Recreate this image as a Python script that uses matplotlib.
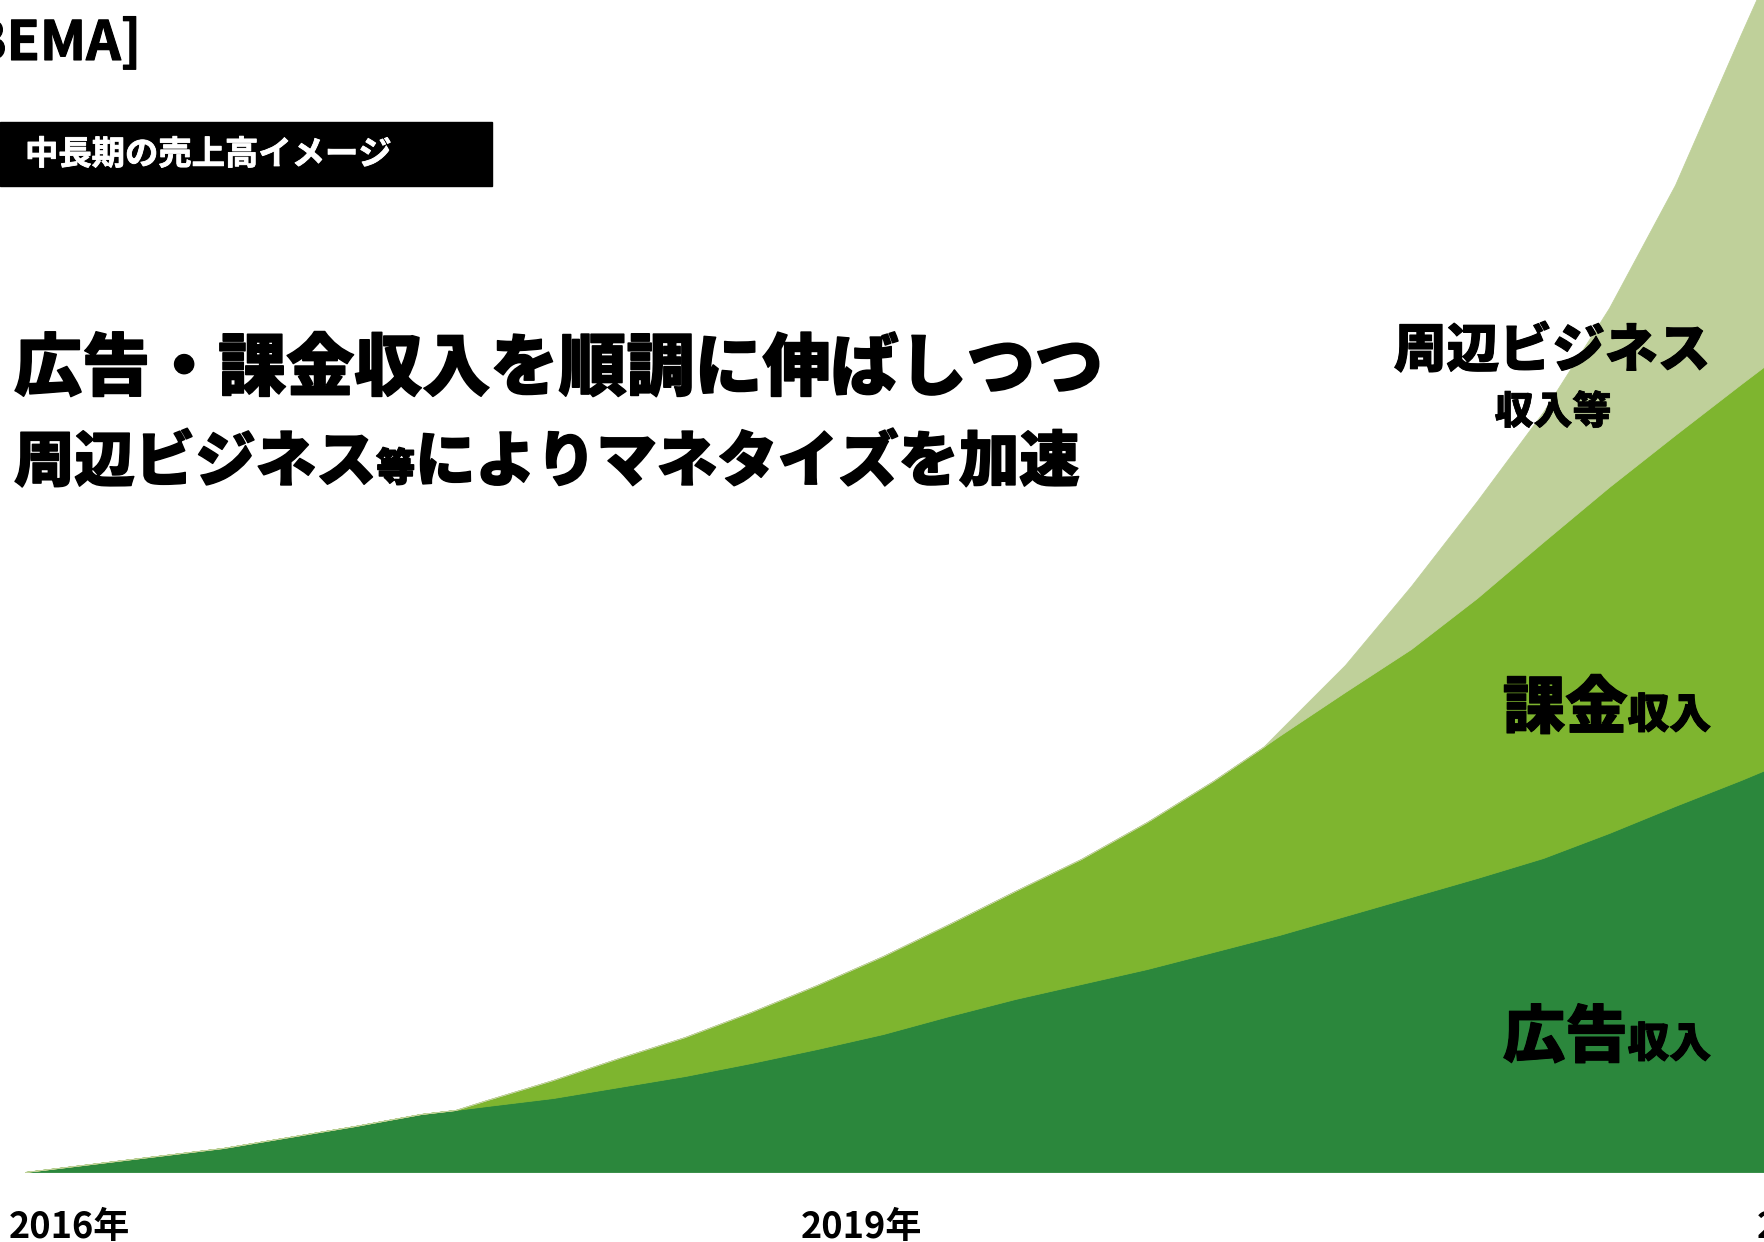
import matplotlib
matplotlib.use("Agg")
import matplotlib.pyplot as plt
from matplotlib.patches import Rectangle
import matplotlib.patheffects as pe

plt.rcParams['font.family'] = ['Noto Sans CJK JP', 'DejaVu Sans']

# 中長期の売上高イメージ (image values)
years = [2016.0, 2016.25, 2016.5, 2016.75, 2017.0, 2017.25, 2017.5, 2017.63,
         2017.75, 2018.0, 2018.25, 2018.5, 2018.75, 2019.0, 2019.25, 2019.5,
         2019.75, 2020.0, 2020.25, 2020.5, 2020.69, 2020.75, 2021.0, 2021.25,
         2021.5, 2021.75, 2022.0, 2022.25, 2022.5, 2022.6]
ad_revenue = [0, 0.8, 1.6, 2.4, 3.5, 4.6, 5.8, 6.2,
              6.6, 7.4, 8.5, 9.6, 10.9, 12.3, 13.8, 15.6,
              17.3, 18.8, 20.3, 22.0, 23.3, 23.7, 25.6, 27.5,
              29.4, 31.4, 33.9, 36.6, 39.2, 40.3]
subscription = [0, 0, 0, 0, 0, 0, 0, 0,
                0.6, 1.8, 2.9, 3.9, 5.1, 6.4, 7.8, 9.2,
                10.8, 12.5, 14.7, 17.1, 19.2, 19.9, 22.4, 24.8,
                28.0, 31.6, 34.6, 37.1, 39.6, 40.5]
other_business = [0, 0, 0, 0, 0, 0, 0, 0,
                  0, 0, 0, 0, 0, 0, 0, 0,
                  0, 0, 0, 0, 0, 0.5, 2.7, 6.3,
                  9.7, 13.0, 17.9, 25.0, 35.0, 38.9]

# year labels along the bottom (the third one is cut by the slide edge)
year_label_pos = [2016, 2019, 2022.62]
year_labels = ['2016年', '2019年', '2022年']

colors = ['#2b873c', '#7eb52f', '#bfd09a']

W, H = 1765, 1242
fig = plt.figure(figsize=(W / 100, H / 100), dpi=100)
ax = fig.add_axes([0, 0, 1, 1])
ax.set_xlim(2015.905, 2022.591)
ax.set_ylim(-7.0, 117.2)
ax.axis('off')

polys = ax.stackplot(years, ad_revenue, subscription, other_business, colors=colors)
for p, c in zip(polys, colors):
    p.set_edgecolor(c)
    p.set_linewidth(0.6)


def heavy(w):
    return [pe.withStroke(linewidth=w, foreground='black')]


for yr, lab in zip(year_label_pos, year_labels):
    ax.text(yr - 16 / 264, -6.6, lab, ha='left', va='baseline',
            fontsize=26, fontweight='bold', color='black')


def fx(x):
    return x / W


def fy(y):
    return 1 - y / H


# header
fig.text(fx(141), fy(60), '[ABEMA]', ha='right', va='baseline',
         fontsize=39, fontweight='bold', color='black', path_effects=heavy(0.8))
fig.patches.append(Rectangle((0, fy(186)), fx(492), (186 - 122) / H,
                             transform=fig.transFigure, color='black'))
fig.text(fx(25), fy(155), '中長期の売上高イメージ', ha='left', va='center',
         fontsize=24, fontweight='bold', color='white',
         path_effects=[pe.withStroke(linewidth=0.6, foreground='white')])

fig.canvas.draw()
renderer = fig.canvas.get_renderer()


def run_text(x, y, parts, stroke):
    # pieces of one line, left to right on a common baseline
    for s, size in parts:
        t = fig.text(fx(x), fy(y), s, ha='left', va='baseline', fontsize=size,
                     fontweight='black', color='black', path_effects=heavy(stroke))
        x += t.get_window_extent(renderer).width


def run_text_right(x, y, parts, stroke):
    for s, size in reversed(parts):
        t = fig.text(fx(x), fy(y), s, ha='right', va='baseline', fontsize=size,
                     fontweight='black', color='black', path_effects=heavy(stroke))
        x -= t.get_window_extent(renderer).width


# headline
run_text(14, 390, [('広告・課金収入を順調に伸ばしつつ', 49)], 1.1)
run_text(14, 481, [('周辺ビジネス', 43.5), ('等', 28), ('によりマネタイズを加速', 43.5)], 1.1)

# series labels
fig.text(fx(1552), fy(367), '周辺ビジネス', ha='center', va='baseline',
         fontsize=38, fontweight='black', path_effects=heavy(0.8))
fig.text(fx(1553), fy(424), '収入等', ha='center', va='baseline',
         fontsize=28, fontweight='black', path_effects=heavy(0.5))
run_text_right(1711, 728, [('課金', 45), ('収入', 30)], 0.8)
run_text_right(1711, 1057, [('広告', 45), ('収入', 30)], 0.8)

fig.savefig('out.png', dpi=100)
